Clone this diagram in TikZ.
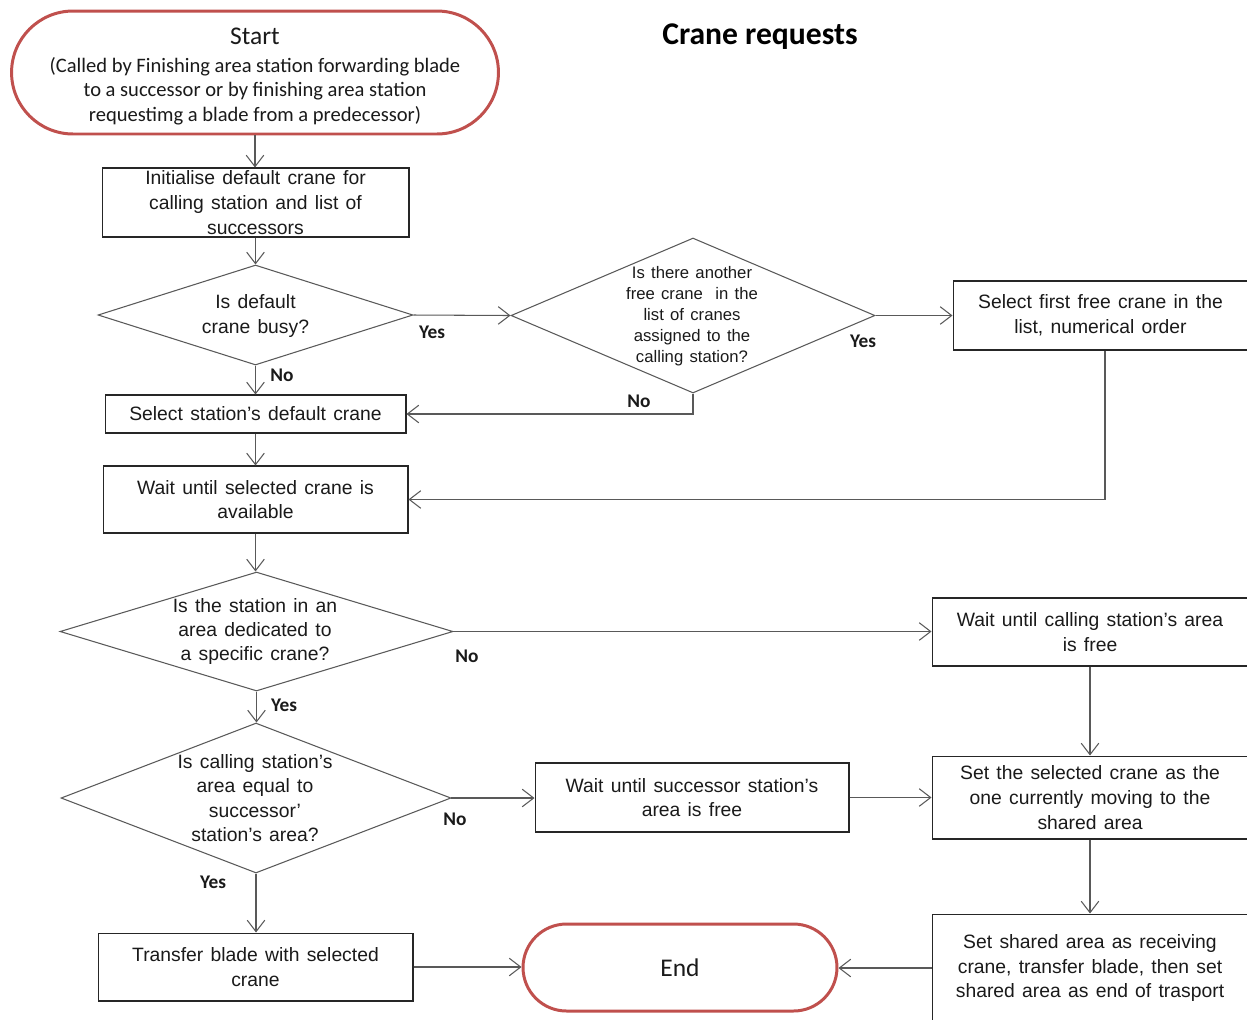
\documentclass[tikz,border=0pt]{standalone}
\usepackage{fontspec}
\setmainfont{Liberation Sans}
\newfontfamily\calib{Carlito}
\newfontfamily\boxfont{Liberation Sans}[WordSpace=1.35]
\usetikzlibrary{arrows.meta,shapes.geometric,calc}
\definecolor{redb}{HTML}{C0504D}
\definecolor{linec}{HTML}{595959}
\definecolor{boxc}{HTML}{262626}
\definecolor{txtc}{HTML}{1A1A1A}
\begin{document}
\begin{tikzpicture}[x=0.02cm,y=-0.02cm,
  box/.style={draw=boxc, line width=0.6pt, rectangle, align=center, inner sep=0pt,
    text=txtc, font=\boxfont\fontsize{11}{14}\selectfont},
  dec/.style={draw=linec, line width=0.6pt, diamond, inner sep=0pt},
  dtext/.style={align=center, inner sep=0pt, text=txtc, font=\boxfont\fontsize{11}{13.8}\selectfont},
  term/.style={draw=redb, line width=1.7pt, rectangle, inner sep=0pt},
  lab/.style={inner sep=0pt, text=txtc, font=\calib\bfseries\fontsize{11}{13}\selectfont},
  arr/.style={draw=linec, line width=0.6pt, -{Straight Barb[length=6.5pt,width=10pt,line width=0.6pt]}}
]
\useasboundingbox (0,0) rectangle (1247,1019);
\clip (0,0) rectangle (1247,1019);
\fill[white] (0,0) rectangle (1247,1019);

% title
\node[inner sep=0pt, text=black, font=\calib\bfseries\fontsize{18}{22}\selectfont] (title) at (760,37) {Crane requests};

% start
\node[term, minimum width=9.74cm, minimum height=2.46cm, rounded corners=1.23cm] (start) at (255,72.5) {};
\node[inner sep=0pt, text=txtc, font=\calib\fontsize{14.5}{17}\selectfont] (startt) at (255,36) {Start};
\node[inner sep=0pt, align=center, text=txtc, font=\calib\fontsize{11.7}{13.9}\selectfont] (starts) at (255,91)
  {(Called by Finishing area station forwarding blade\\to a successor or by finishing area station\\requestimg a blade from a predecessor)};

\node[box, minimum width=6.14cm, minimum height=1.38cm] (init) at (255.5,202.5)
  {Initialise default crane for\\calling station and list of\\successors};

\node[dec, minimum width=6.3cm, minimum height=2.0cm] (d1) at (255.5,315) {};
\node[dtext] (d1t) at (255.5,316) {Is default\\crane busy?};

\node[dec, minimum width=7.28cm, minimum height=3.1cm] (d2) at (693,315.5) {};
\node[dtext, font=\boxfont\fontsize{9.5}{12}\selectfont] (d2t) at (692,316) {Is there another\\free crane \ in the\\list of cranes\\assigned to the\\calling station?};

\node[box, minimum width=5.9cm, minimum height=1.38cm] (sel) at (1100.5,315.5)
  {Select first free crane in the\\list, numerical order};

\node[box, minimum width=6.02cm, minimum height=0.76cm] (seldef) at (255.5,414)
  {Select station’s default crane};

\node[box, minimum width=6.1cm, minimum height=1.34cm] (waitsel) at (255.5,499.5)
  {Wait until selected crane is\\available};

\node[dec, minimum width=7.86cm, minimum height=2.38cm] (d3) at (256.5,631.5) {};
\node[dtext] (d3t) at (255,631.5) {Is the station in an\\area dedicated to\\a specific crane?};

\node[box, minimum width=6.32cm, minimum height=1.36cm] (waitcall) at (1090,632)
  {Wait until calling station’s area\\is free};

\node[dec, minimum width=7.8cm, minimum height=3.0cm] (d4) at (256,798) {};
\node[dtext] (d4t) at (255,798) {Is calling station’s\\area equal to\\successor’\\station’s area?};

\node[box, minimum width=6.28cm, minimum height=1.38cm] (waitsucc) at (692,797.5)
  {Wait until successor station’s\\area is free};

\node[box, minimum width=6.32cm, minimum height=1.66cm] (setsel) at (1090,797.5)
  {Set the selected crane as the\\one currently moving to the\\shared area};

\node[box, minimum width=6.3cm, minimum height=1.36cm] (transfer) at (255.5,967)
  {Transfer blade with selected\\crane};

\node[term, minimum width=6.28cm, minimum height=1.74cm, rounded corners=0.87cm,
  font=\calib\fontsize{14.5}{17}\selectfont, text=txtc] (end) at (680,967.5) {End};

\node[box, minimum width=6.32cm, minimum height=2.16cm] (setshared) at (1090,968)
  {Set shared area as receiving\\crane, transfer blade, then set\\shared area as end of trasport};

% connectors
\draw[arr] (start.south) -- (start.south |- init.north);
\draw[arr] (init.south) -- (init.south |- d1.north);
\draw[arr] (d1.east) -- (d2.west);
\draw[arr] (d2.east) -- (d2.east -| sel.west);
\draw[arr] (d1.south) -- (d1.south |- seldef.north);
\draw[arr] (d2.south) |- (seldef.east);
\draw[arr] (seldef.south) -- (seldef.south |- waitsel.north);
\draw[arr] ([xshift=0.09cm]sel.south) |- (waitsel.east);
\draw[arr] (waitsel.south) -- (waitsel.south |- d3.north);
\draw[arr] (d3.east) -- (d3.east -| waitcall.west);
\draw[arr] (d3.south) -- (d3.south |- d4.north);
\draw[arr] (d4.east) -- (d4.east -| waitsucc.west);
\draw[arr] (waitsucc.east) -- (waitsucc.east -| setsel.west);
\draw[arr] (waitcall.south) -- (setsel.north);
\draw[arr] (setsel.south) -- (setshared.north);
\draw[arr] (d4.south) -- (d4.south |- transfer.north);
\draw[arr] (transfer.east) -- (transfer.east -| end.west);
\draw[arr] (setshared.west) -- (setshared.west -| end.east);

% labels
\node[lab] (y1) at (432,332) {Yes};
\node[lab] (y2) at (863,341) {Yes};
\node[lab] (n1) at (282,375) {No};
\node[lab] (n2) at (639,401) {No};
\node[lab] (n3) at (467,656) {No};
\node[lab] (y3) at (284,705) {Yes};
\node[lab] (n4) at (455,819) {No};
\node[lab] (y4) at (213,882) {Yes};
\end{tikzpicture}
\end{document}
